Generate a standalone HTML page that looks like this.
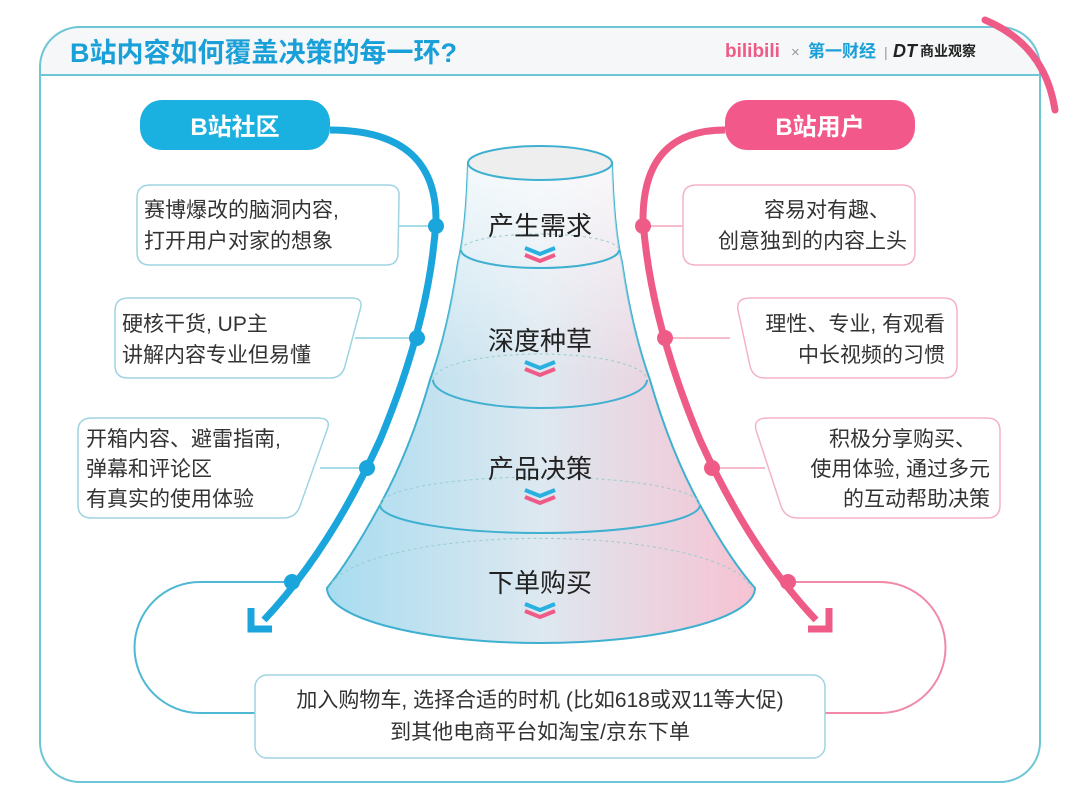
<!DOCTYPE html>
<html><head><meta charset="utf-8"><style>
html,body{margin:0;padding:0;background:#fff;}
svg{display:block;}
text{font-family:"Liberation Sans","Noto Sans CJK SC",sans-serif;}
</style></head><body>
<svg width="1080" height="810" viewBox="0 0 1080 810" xmlns="http://www.w3.org/2000/svg">
<defs>
<linearGradient id="fg" x1="0" x2="1" y1="0" y2="0">
<stop offset="0" stop-color="#a8dcf0"/><stop offset="0.5" stop-color="#dde8f0"/><stop offset="1" stop-color="#f7c2d2"/>
</linearGradient>
<linearGradient id="fv" x1="0" x2="0" y1="0" y2="1">
<stop offset="0" stop-color="#fff" stop-opacity="0.8"/><stop offset="1" stop-color="#fff" stop-opacity="0"/>
</linearGradient>
</defs>
<!-- frame -->
<path d="M40 75 L40 67 Q40 27 80 27 L1000 27 Q1040 27 1040 67 L1040 75 Z" fill="#f5f7f8"/>
<rect x="40" y="27" width="1000" height="755" rx="40" fill="none" stroke="#6cc6d6" stroke-width="2"/>
<line x1="40" y1="75" x2="1040" y2="75" stroke="#6cc6d6" stroke-width="2"/>
<path d="M985 20 Q1045 45 1055 110" fill="none" stroke="#ef5b87" stroke-width="7" stroke-linecap="round"/>
<text x="70" y="62" font-size="27" font-weight="bold" fill="#1aa0d8">B站内容如何覆盖决策的每一环?</text>
<text x="725" y="57" font-size="19" font-weight="bold" fill="#ef5b87">bilibili</text>
<text x="791" y="57" font-size="15" fill="#999">×</text>
<text x="808" y="57" font-size="17" font-weight="bold" fill="#1aa0d8">第一财经</text>
<text x="884" y="57" font-size="14" fill="#999">|</text>
<text x="893" y="57" font-size="18" font-weight="bold" font-style="italic" fill="#222">DT</text>
<text x="920" y="56" font-size="14" font-weight="bold" fill="#222">商业观察</text>

<!-- pills -->
<rect x="140" y="100" width="190" height="50" rx="22" fill="#1ab0e0"/>
<text x="235" y="135" font-size="24" font-weight="bold" fill="#fff" text-anchor="middle">B站社区</text>
<rect x="725" y="100" width="190" height="50" rx="22" fill="#f2588a"/>
<text x="820" y="135" font-size="24" font-weight="bold" fill="#fff" text-anchor="middle">B站用户</text>

<!-- bottom loops -->
<path d="M292 582 L200 582 A65 65 0 0 0 200 713 L255 713" fill="none" stroke="#4fb8d4" stroke-width="2"/>
<path d="M780 582 L880 582 A65 65 0 0 1 880 713 L825 713" fill="none" stroke="#f08aa8" stroke-width="2"/>

<!-- left blue line -->
<path d="M330 130 Q436 130 436 220 Q430 320 380 440 Q330 550 264 620" fill="none" stroke="#1aa6dc" stroke-width="7"/>
<path d="M251 608 L251 629 L272 629" fill="none" stroke="#1aa6dc" stroke-width="7"/>
<!-- right pink line -->
<path d="M725 130 Q643 130 643 220 Q650 320 700 440 Q750 550 816 620" fill="none" stroke="#ef5b87" stroke-width="7"/>
<path d="M829 608 L829 629 L808 629" fill="none" stroke="#ef5b87" stroke-width="7"/>

<!-- connectors -->
<g stroke="#8ccfe0" stroke-width="1.5">
<line x1="398" y1="226" x2="436" y2="226"/><line x1="355" y1="338" x2="417" y2="338"/><line x1="320" y1="468" x2="367" y2="468"/>
</g>
<g stroke="#f3a5bc" stroke-width="1.5">
<line x1="643" y1="226" x2="683" y2="226"/><line x1="665" y1="338" x2="730" y2="338"/><line x1="712" y1="468" x2="765" y2="468"/>
</g>
<g fill="#1aa6dc"><circle cx="436" cy="226" r="8"/><circle cx="417" cy="338" r="8"/><circle cx="367" cy="468" r="8"/><circle cx="292" cy="582" r="8"/></g>
<g fill="#ef5b87"><circle cx="643" cy="226" r="8"/><circle cx="665" cy="338" r="8"/><circle cx="712" cy="468" r="8"/><circle cx="788" cy="582" r="8"/></g>

<!-- funnel -->
<path d="M468 163 Q466 230 458 262 Q448 330 430 380 Q410 450 380 505 Q350 560 327 588 A214 55 0 0 0 755 588 Q730 560 700 505 Q670 450 650 380 Q632 330 622 262 Q614 230 612 163 Z" fill="url(#fg)" stroke="#3fb0d0" stroke-width="2"/>
<path d="M468 163 Q466 230 458 262 Q448 330 430 380 L650 380 Q632 330 622 262 Q614 230 612 163 Z" fill="url(#fv)"/>
<ellipse cx="540" cy="163" rx="72" ry="17" fill="#eeeeee" stroke="#3fb0d0" stroke-width="2"/>
<g fill="none" stroke="#9cc" stroke-width="1" stroke-dasharray="3 3">
<path d="M461 250 A79 16 0 0 1 619 250"/>
<path d="M433 380 A107 26 0 0 1 647 380"/>
<path d="M380 505 A160 28 0 0 1 700 505"/>
<path d="M329 588 A212 55 0 0 1 751 588"/>
</g>
<g fill="none" stroke="#3fb0d0" stroke-width="2">
<path d="M461 250 A79 18 0 0 0 619 250"/>
<path d="M433 380 A107 28 0 0 0 647 380"/>
<path d="M380 505 A160 28 0 0 0 700 505"/>
</g>
<g font-size="26" fill="#222" text-anchor="middle">
<text x="540" y="235">产生需求</text><text x="540" y="350">深度种草</text><text x="540" y="478">产品决策</text><text x="540" y="592">下单购买</text>
</g>
<g fill="none" stroke-width="4">
<g transform="translate(540,248)"><path d="M-15 0 L0 6 L15 0" stroke="#2ab0e0"/><path d="M-15 7 L0 13 L15 7" stroke="#ef5b87"/></g>
<g transform="translate(540,362)"><path d="M-15 0 L0 6 L15 0" stroke="#2ab0e0"/><path d="M-15 7 L0 13 L15 7" stroke="#ef5b87"/></g>
<g transform="translate(540,490)"><path d="M-15 0 L0 6 L15 0" stroke="#2ab0e0"/><path d="M-15 7 L0 13 L15 7" stroke="#ef5b87"/></g>
<g transform="translate(540,604)"><path d="M-15 0 L0 6 L15 0" stroke="#2ab0e0"/><path d="M-15 7 L0 13 L15 7" stroke="#ef5b87"/></g>
</g>

<!-- left boxes -->
<g fill="#fff" stroke="#9fd4e2" stroke-width="1.5">
<path d="M150 185 L388 185 Q400 185 399 197 L398 253 Q398 265 386 265 L150 265 Q137 265 137 252 L137 198 Q137 185 150 185Z"/>
<path d="M128 298 L352 298 Q364 298 360 310 L345 366 Q342 378 330 378 L128 378 Q115 378 115 365 L115 311 Q115 298 128 298Z"/>
<path d="M92 418 L318 418 Q332 418 327 430 L300 506 Q296 518 283 518 L92 518 Q78 518 78 505 L78 431 Q78 418 92 418Z"/>
</g>
<g fill="#fff" stroke="#f3b3c6" stroke-width="1.5">
<path d="M696 185 L902 185 Q915 185 915 198 L915 252 Q915 265 902 265 L696 265 Q683 265 683 252 L683 198 Q683 185 696 185Z"/>
<path d="M750 298 L944 298 Q957 298 957 311 L957 365 Q957 378 944 378 L765 378 Q753 378 750 366 L738 310 Q736 298 750 298Z"/>
<path d="M768 418 L987 418 Q1000 418 1000 431 L1000 505 Q1000 518 987 518 L798 518 Q785 518 781 506 L756 430 Q753 418 768 418Z"/>
</g>
<g font-size="21" fill="#333">
<text x="144" y="217">赛博爆改的脑洞内容,</text><text x="144" y="248">打开用户对家的想象</text>
<text x="122" y="331">硬核干货, UP主</text><text x="122" y="362">讲解内容专业但易懂</text>
<text x="86" y="446">开箱内容、避雷指南,</text><text x="86" y="476">弹幕和评论区</text><text x="86" y="506">有真实的使用体验</text>
</g>
<g font-size="21" fill="#333" text-anchor="end">
<text x="890" y="217">容易对有趣、</text><text x="907" y="248">创意独到的内容上头</text>
<text x="945" y="331">理性、专业, 有观看</text><text x="945" y="362">中长视频的习惯</text>
<text x="976" y="446">积极分享购买、</text><text x="990" y="476">使用体验, 通过多元</text><text x="990" y="506">的互动帮助决策</text>
</g>

<!-- bottom box -->
<rect x="255" y="675" width="570" height="83" rx="12" fill="#fff" stroke="#9fd4e2" stroke-width="1.5"/>
<g font-size="21" fill="#333" text-anchor="middle">
<text x="540" y="707">加入购物车, 选择合适的时机 (比如618或双11等大促)</text>
<text x="540" y="739">到其他电商平台如淘宝/京东下单</text>
</g>
</svg>
</body></html>
